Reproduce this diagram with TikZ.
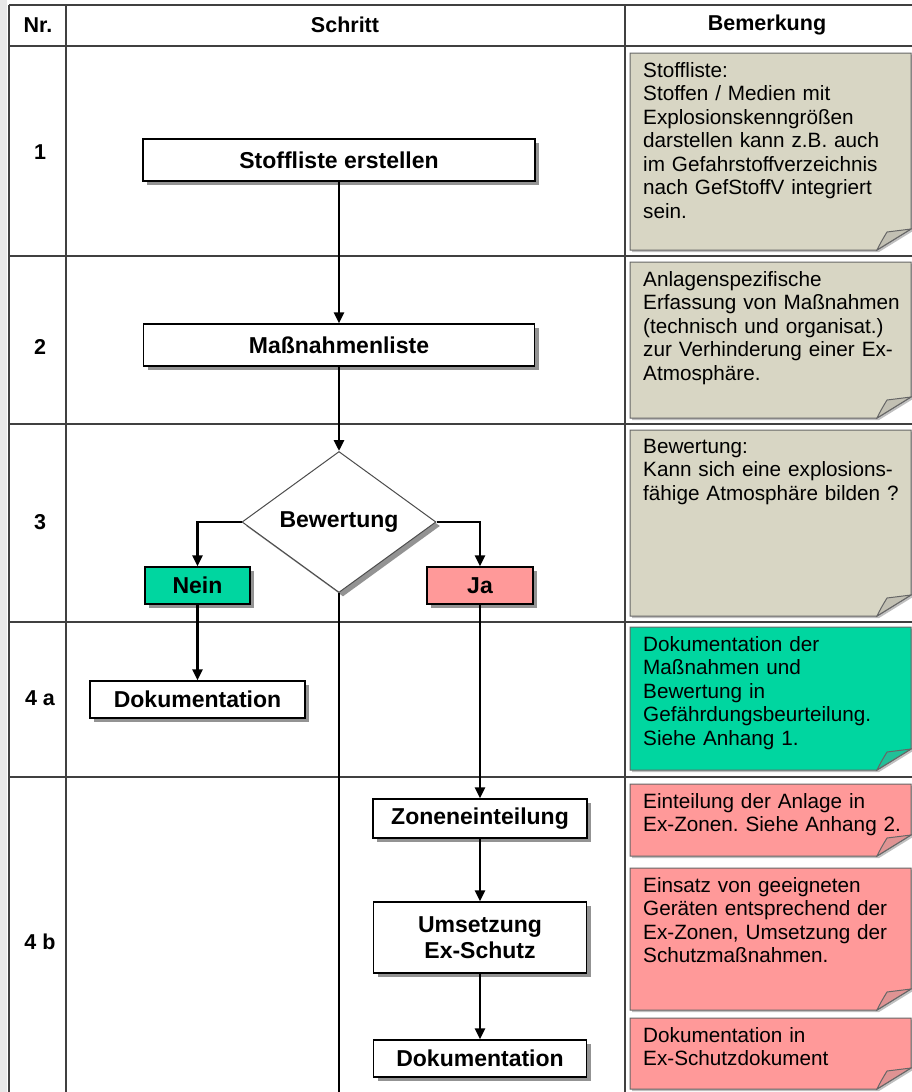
\documentclass[tikz,border=0pt]{standalone}
\usepackage{fontspec}
\setmainfont{Liberation Sans}
\usepackage{tikz}
\usetikzlibrary{calc}
\usetikzlibrary{shapes.geometric}
\usetikzlibrary{shadows}
\usetikzlibrary{arrows.meta}

\definecolor{notiz}{RGB}{216,214,196}
\definecolor{gruen}{RGB}{0,214,160}
\definecolor{rosa}{RGB}{255,153,153}
\definecolor{linie}{RGB}{64,64,64}

\newcommand{\bemerkung}[5]{%
  \filldraw[fill=#4,draw=black!60,line width=1pt,drop shadow={shadow xshift=2pt,shadow yshift=-2pt,fill=black!50}]
    (630,#2)--(911,#2)--(911,{#3-21})--(877,#3)--(630,#3)--cycle;
  \filldraw[fill=#4!75!gray,draw=black!60,line width=1pt]
    (877,#3)..controls (881,{#3-8})..(887,{#3-18})--(911,{#3-21})--cycle;
  \node[bem] (#1) at (643,{#2+9}) {#5};
}

\begin{document}
\frenchspacing
\begin{tikzpicture}[x=1pt,y=-1pt,>={Triangle[length=11pt,width=10pt]},
    schritt/.style={draw=black,line width=1.4pt,fill=white,inner sep=0pt,
      font=\bfseries\fontsize{23}{26}\selectfont,
      drop shadow={shadow xshift=4pt,shadow yshift=-4pt,fill=black!70,opacity=.6}},
    pfeil/.style={line width=2.7pt,->},
    tab/.style={draw=linie,line width=2pt},
    bem/.style={anchor=north west,inner sep=0pt,text width=265pt,align=left,
      font=\fontsize{20.7}{23.5}\selectfont},
    nr/.style={font=\bfseries\fontsize{21.5}{24}\selectfont}]

    \useasboundingbox (0,0) rectangle (912,1092);
    \fill[white] (0,0) rectangle (912,1092);
    \fill[black!9] (0,0) rectangle (7,1092);

    \draw[tab] (9,5)--(912,5);
    \draw[tab] (9,5)--(9,1092);
    \draw[tab] (66,5)--(66,1092);
    \draw[tab] (625,5)--(625,1092);
    \foreach \y in {46,256,424,622,777}
        \draw[tab] (9,\y)--(912,\y);

    \node[nr] (kopfnr) at (38,25) {Nr.};
    \node[nr] (kopfschritt) at (345,25) {Schritt};
    \node[nr] (kopfbem) at (767,25) {Bemerkung};

    \node[nr] (nr1) at (40,152) {1};
    \node[nr] (nr2) at (40,347) {2};
    \node[nr] (nr3) at (40,522) {3};
    \node[nr] (nr4a) at (40,698) {4 a};
    \node[nr] (nr4b) at (40,942) {4 b};

    \node[schritt,minimum width=392,minimum height=42] (stoff) at (339,160) {Stoffliste erstellen};
    \node[schritt,minimum width=391,minimum height=42] (mass) at (339,345) {Maßnahmenliste};
    \node[schritt,diamond,draw=black!70,line width=1pt,aspect=1.376,minimum width=194,minimum height=141] (bew) at (339,522) {Bewertung};
    \node[schritt,fill=gruen,minimum width=105,minimum height=37] (nein) at (197.5,585.5) {Nein};
    \node[schritt,fill=rosa,minimum width=106,minimum height=37] (ja) at (480,585.5) {Ja};
    \node[schritt,minimum width=215,minimum height=37] (dok1) at (197.5,699.5) {Dokumentation};
    \node[schritt,minimum width=214,minimum height=39] (zonen) at (480,818.5) {Zoneneinteilung};
    \node[schritt,minimum width=213,minimum height=71,align=center] (umsetz) at (480,937.5) {Umsetzung\\Ex-Schutz};
    \node[schritt,minimum width=213,minimum height=37] (dok2) at (480,1058.5) {Dokumentation};

    \coordinate (unten) at (339,1092);

    \draw[pfeil] (stoff)--(mass);
    \draw[pfeil] (mass)--(bew);
    \draw[pfeil] (bew.west)-|(nein);
    \draw[pfeil] (bew.east)-|(ja);
    \draw[pfeil] (nein)--(dok1);
    \draw[pfeil] (ja)--(zonen);
    \draw[pfeil] (zonen)--(umsetz);
    \draw[pfeil] (umsetz)--(dok2);
    \draw[line width=1.4pt] (bew.south)--(unten);

    \bemerkung{bem1}{53}{250}{notiz}{Stoffliste:\\Stoffen / Medien mit\\Explosionskenngrößen\\darstellen kann z.B. auch\\im Gefahrstoffverzeichnis\\nach GefStoffV integriert\\sein.}
    \bemerkung{bem2}{262}{418}{notiz}{Anlagenspezifische\\Erfassung von Maßnahmen\\(technisch und organisat.)\\zur Verhinderung einer Ex-\\Atmosphäre.}
    \bemerkung{bem3}{430}{616}{notiz}{Bewertung:\\Kann sich eine explosions-\\fähige Atmosphäre bilden ?}
    \bemerkung{bem4}{627}{770}{gruen}{Dokumentation der\\Maßnahmen und\\Bewertung in\\Gefährdungsbeurteilung.\\Siehe Anhang 1.}
    \bemerkung{bem5}{784}{856}{rosa}{Einteilung der Anlage in\\Ex-Zonen. Siehe Anhang 2.}
    \bemerkung{bem6}{868}{1010}{rosa}{Einsatz von geeigneten\\Geräten entsprechend der\\Ex-Zonen, Umsetzung der\\Schutzmaßnahmen.}
    \bemerkung{bem7}{1018}{1089}{rosa}{Dokumentation in\\Ex-Schutzdokument}

\end{tikzpicture}
\end{document}
